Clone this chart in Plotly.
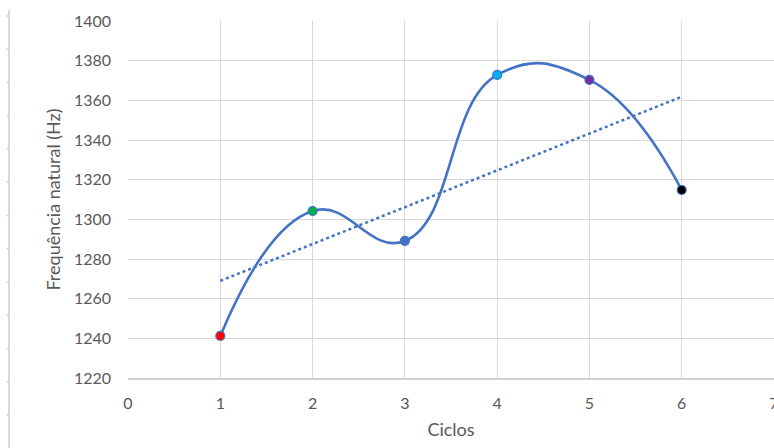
import numpy as np
import plotly.graph_objects as go

# Data
ciclos = [1, 2, 3, 4, 5, 6]
frequencia = [1241.2, 1304.2, 1289.1, 1372.8, 1370.3, 1314.8]
marker_colors = ["#FF0000", "#00B050", "#4472C4", "#00B0F0", "#7030A0", "#000000"]
x_ticks = [0, 1, 2, 3, 4, 5, 6, 7]
y_ticks = [1220, 1240, 1260, 1280, 1300, 1320, 1340, 1360, 1380, 1400]

W, H = 774, 448
ML, MR, MT, MB = 128, 0, 21, 70

fig = go.Figure()

# Linear trendline (least squares)
slope, intercept = np.polyfit(ciclos, frequencia, 1)
tx = [ciclos[0], ciclos[-1]]
ty = [slope * v + intercept for v in tx]
fig.add_trace(go.Scatter(x=tx, y=ty, mode="lines",
                         line=dict(color="#4472C4", width=2.5, dash="dot"),
                         hoverinfo="skip", showlegend=False))

# Smoothed series
fig.add_trace(go.Scatter(x=ciclos, y=frequencia, mode="lines+markers",
                         line=dict(color="#4472C4", width=2.6, shape="spline", smoothing=1.3),
                         marker=dict(size=9, color=marker_colors,
                                     line=dict(color="#4472C4", width=1.2)),
                         showlegend=False))

grid = "#D9D9D9"
fam = "Lato, Open Sans, sans-serif"
tickfont = dict(family=fam, size=16, color="#595959")
titlefont = dict(family=fam, size=18, color="#595959")

fig.update_xaxes(range=[0, 7], tickvals=x_ticks, showgrid=True, gridcolor=grid, gridwidth=1,
                 zeroline=False, showline=True, linecolor="#D0D0D0", linewidth=1.5,
                 ticks="", tickfont=tickfont, ticklabelstandoff=10, ticklabeloverflow="allow",
                 automargin=False,
                 title=dict(text="Ciclos", font=titlefont, standoff=12))
fig.update_yaxes(range=[1220, 1400], tickvals=y_ticks, showgrid=True, gridcolor=grid, gridwidth=1,
                 zeroline=False, showline=False, ticks="", tickfont=tickfont, ticklabelstandoff=16,
                 automargin=False,
                 title=dict(text="Frequência natural (Hz)", font=titlefont, standoff=8))

# Left border artifact (vertical rule with small ticks)
pw = W - ML - MR
ph = H - MT - MB
def px_x(p):
    return (p - ML) / pw
def px_y(p):
    return (H - MB - p) / ph

shapes = [dict(type="line", xref="paper", yref="paper",
               x0=px_x(9), x1=px_x(9), y0=px_y(10), y1=px_y(448),
               line=dict(color="#DADADA", width=2))]
for i in range(13):
    yy = 16 + i * 33.25
    shapes.append(dict(type="line", xref="paper", yref="paper",
                       x0=px_x(6.5), x1=px_x(9), y0=px_y(yy), y1=px_y(yy),
                       line=dict(color="#D0D0D0", width=1.5)))
fig.update_layout(shapes=shapes)

fig.update_layout(width=W, height=H, margin=dict(l=ML, r=MR, t=MT, b=MB),
                  paper_bgcolor="white", plot_bgcolor="white")

fig.write_html("out.html")
